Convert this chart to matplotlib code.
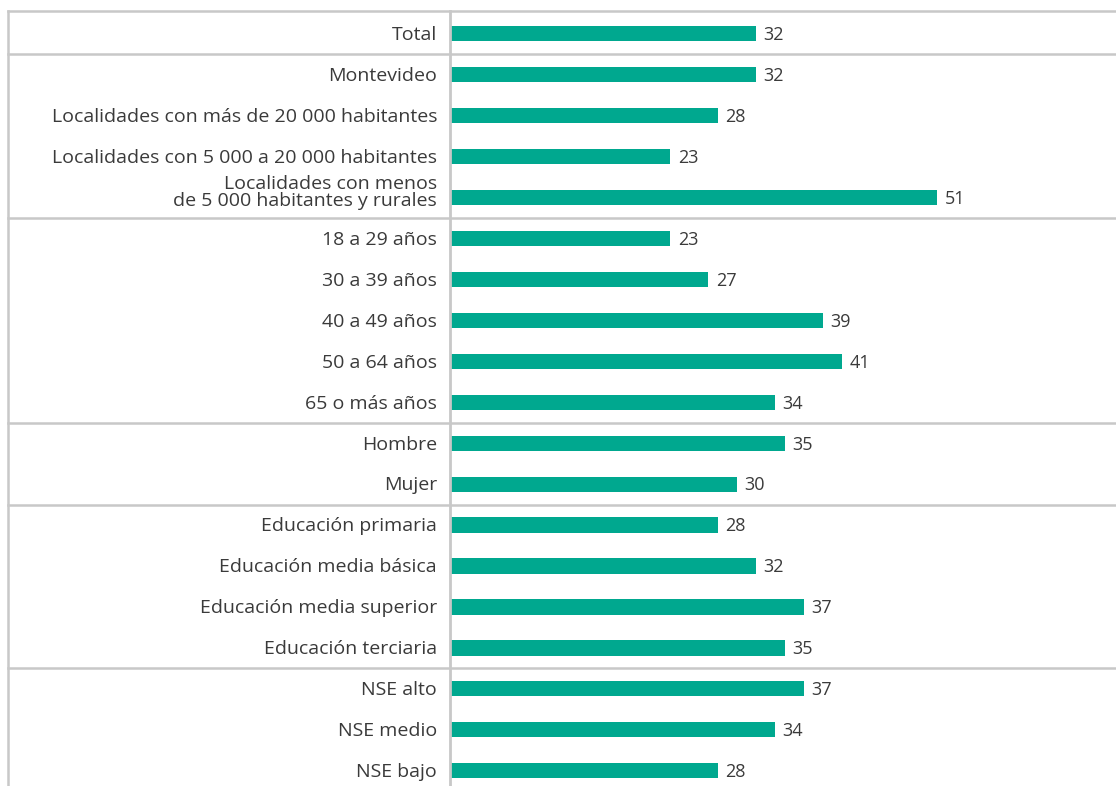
import matplotlib
matplotlib.use("Agg")
import matplotlib.pyplot as plt
from matplotlib.lines import Line2D

categories = [
    "Total",
    "Montevideo",
    "Localidades con más de 20 000 habitantes",
    "Localidades con 5 000 a 20 000 habitantes",
    "Localidades con menos\nde 5 000 habitantes y rurales",
    "18 a 29 años",
    "30 a 39 años",
    "40 a 49 años",
    "50 a 64 años",
    "65 o más años",
    "Hombre",
    "Mujer",
    "Educación primaria",
    "Educación media básica",
    "Educación media superior",
    "Educación terciaria",
    "NSE alto",
    "NSE medio",
    "NSE bajo",
]
values = [32, 32, 28, 23, 51, 23, 27, 39, 41, 34, 35, 30, 28, 32, 37, 35, 37, 34, 28]
# index after which a group separator is drawn
group_breaks = [0, 4, 9, 11, 15]

BAR = "#00A88F"
GRID = "#c8c8c8"
TEXT = "#3a3a3a"
plt.rcParams["font.family"] = ["Open Sans", "DejaVu Sans"]

W, H = 1116, 786
fig = plt.figure(figsize=(W / 100, H / 100), dpi=100)

x0 = 451 / W
ax = fig.add_axes([x0, 0, 1 - x0, 1 - 11 / H])
n = len(values)
ypos = list(range(n))
ax.barh(ypos, values, height=0.37, color=BAR, align="center")
ax.set_ylim(n - 1 + 0.37, -0.55)
ax.set_xlim(0, (W - 451) / 9.53)
ax.set_xticks([])
ax.set_yticks([])
for s in ax.spines.values():
    s.set_visible(False)

for y, v in zip(ypos, values):
    ax.annotate(str(v), (v, y), xytext=(5.5, -1), textcoords="offset points",
                va="center", ha="left", fontsize=13, color=TEXT)

for y, lab in zip(ypos, categories):
    two = "\n" in lab
    ax.annotate(lab, (0, y), xytext=(-10, -1 if not two else 3.5),
                textcoords="offset points", va="center", ha="right",
                fontsize=14, color=TEXT, linespacing=0.92,
                annotation_clip=False)

# figure-level frame and group separators
to_fig = lambda yd: fig.transFigure.inverted().transform(ax.transData.transform((0, yd)))[1]
top = 1 - 11 / H
fig.add_artist(Line2D([8 / W, 1], [top, top], color=GRID, lw=1.8))
for b in group_breaks:
    yf = to_fig(b + 0.5)
    fig.add_artist(Line2D([8 / W, 1], [yf, yf], color=GRID, lw=1.8))
fig.add_artist(Line2D([8 / W, 8 / W], [0, top], color=GRID, lw=1.8))
fig.add_artist(Line2D([450 / W, 450 / W], [0, top], color=GRID, lw=2.0))

fig.savefig("out.png", dpi=100)
